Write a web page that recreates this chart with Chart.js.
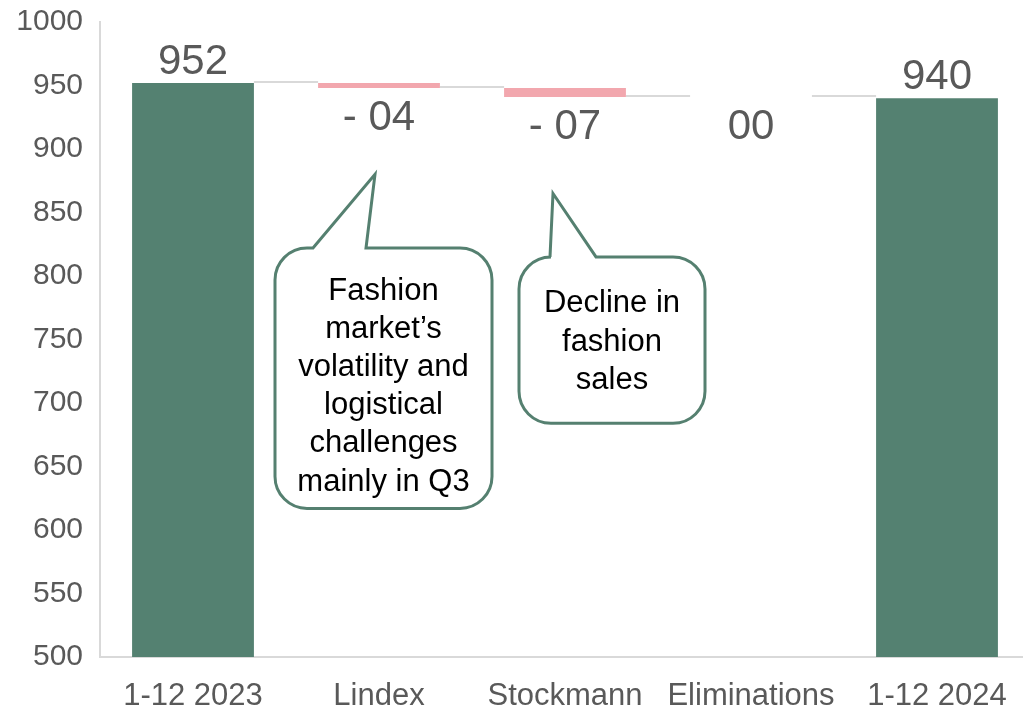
<!DOCTYPE html>
<html>
<head>
<meta charset="utf-8">
<script src="https://cdn.jsdelivr.net/npm/chart.js@4.4.1/dist/chart.umd.min.js"></script>
<style>
    html, body { margin: 0; padding: 0; background: #fff; overflow: hidden; }
    #wrap { position: relative; width: 1030px; height: 725px; margin-top: -13px; }
</style>
</head>
<body>
<div id="wrap"><canvas id="bridgeChart"></canvas></div>
<script>
// ---- data ----
var categories = ['1-12 2023', 'Lindex', 'Stockmann', 'Eliminations', '1-12 2024'];
var values = [952, -4, -7, 0, 940];
var isTotal = [true, false, false, false, true];
var yMin = 500, yMax = 1000, yStep = 50;

var GREEN = '#548171';
var PINK = '#F2A7AE';
var GREY_TEXT = '#595959';
var LINE = '#D9D9D9';
var FONT = '"Liberation Sans", Arial, sans-serif';

// build floating bars for the waterfall
var running = 0;
var barData = [];
var barColors = [];
for (var i = 0; i < values.length; i++) {
    if (isTotal[i]) {
        running = values[i];
        barData.push([0, running]);
        barColors.push(GREEN);
    } else {
        var next = running + values[i];
        barData.push([Math.min(running, next), Math.max(running, next)]);
        barColors.push(PINK);
        running = next;
    }
}

function valueLabel(i) {
    var v = values[i];
    if (isTotal[i]) return String(v);
    return v < 0 ? '- 0' + Math.abs(v) : '0' + v;
}

// callouts anchored on a category and on y values
var callouts = [
    { cat: 1, left: -104, right: 113, top: 822, bottom: 617,
      tipDx: -4, tipY: 880, baseL: -66, baseR: -13, firstLine: 43,
      lines: ['Fashion', 'market\u2019s', 'volatility and', 'logistical', 'challenges', 'mainly in Q3'] },
    { cat: 2, left: -46, right: 140, top: 815, bottom: 684,
      tipDx: -12, tipY: 865, baseL: -15, baseR: 31, firstLine: 47,
      lines: ['Decline in', 'fashion', 'sales'] }
];

var waterfallPlugin = {
    id: 'waterfall',
    beforeDatasetsDraw: function (chart) {
        // connector lines between bars
        var ctx = chart.ctx;
        var meta = chart.getDatasetMeta(0);
        var y = chart.scales.y;
        ctx.save();
        ctx.strokeStyle = LINE;
        ctx.lineWidth = 2;
        var level = 0;
        for (var i = 0; i < meta.data.length - 1; i++) {
            level = isTotal[i] ? values[i] : level + values[i];
            var a = meta.data[i], b = meta.data[i + 1];
            var py = Math.round(y.getPixelForValue(level)) - 1;
            ctx.beginPath();
            ctx.moveTo(a.x + a.width / 2, py);
            ctx.lineTo(b.x - b.width / 2, py);
            ctx.stroke();
        }
        ctx.restore();
    },
    afterDatasetsDraw: function (chart) {
        var ctx = chart.ctx;
        var meta = chart.getDatasetMeta(0);
        var x = chart.scales.x, y = chart.scales.y;

        // value labels
        ctx.save();
        ctx.font = '42px ' + FONT;
        ctx.fillStyle = GREY_TEXT;
        ctx.textAlign = 'center';
        ctx.textBaseline = 'alphabetic';
        for (var i = 0; i < meta.data.length; i++) {
            var bar = meta.data[i];
            var top = Math.min(bar.y, bar.base);
            var bottom = Math.max(bar.y, bar.base);
            var ly = isTotal[i] ? top - 9 : bottom + 42;
            ctx.fillText(valueLabel(i), bar.x, ly);
        }
        ctx.restore();

        // speech bubbles
        callouts.forEach(function (c) {
            var cx = x.getPixelForValue(c.cat);
            var L = cx + c.left, R = cx + c.right;
            var T = y.getPixelForValue(c.top), B = y.getPixelForValue(c.bottom);
            var r = 32;
            ctx.save();
            ctx.beginPath();
            ctx.moveTo(L + r, T);
            ctx.lineTo(cx + c.baseL, T);
            ctx.lineTo(cx + c.tipDx, y.getPixelForValue(c.tipY));
            ctx.lineTo(cx + c.baseR, T);
            ctx.lineTo(R - r, T);
            ctx.arcTo(R, T, R, T + r, r);
            ctx.lineTo(R, B - r);
            ctx.arcTo(R, B, R - r, B, r);
            ctx.lineTo(L + r, B);
            ctx.arcTo(L, B, L, B - r, r);
            ctx.lineTo(L, T + r);
            ctx.arcTo(L, T, L + r, T, r);
            ctx.closePath();
            ctx.fillStyle = '#fff';
            ctx.fill();
            ctx.strokeStyle = '#558070';
            ctx.lineWidth = 3;
            ctx.stroke();

            ctx.font = '31px ' + FONT;
            ctx.fillStyle = '#000';
            ctx.textAlign = 'center';
            ctx.textBaseline = 'middle';
            var mid = (L + R) / 2;
            c.lines.forEach(function (line, k) {
                ctx.fillText(line, mid, T + c.firstLine + k * 38.2);
            });
            ctx.restore();
        });
    }
};

var ctx = document.getElementById('bridgeChart').getContext('2d');
new Chart(ctx, {
    type: 'bar',
    data: {
        labels: categories,
        datasets: [{
            data: barData,
            backgroundColor: barColors,
            borderWidth: 0,
            categoryPercentage: 1,
            barPercentage: 0.655
        }]
    },
    options: {
        responsive: true,
        maintainAspectRatio: false,
        animation: false,
        layout: { padding: { top: 7, left: 0, right: 0, bottom: 0 } },
        plugins: {
            legend: { display: false },
            tooltip: { enabled: false }
        },
        scales: {
            x: {
                grid: { display: false, drawTicks: false },
                border: { color: LINE, width: 2 },
                ticks: { color: GREY_TEXT, font: { family: FONT, size: 31 }, padding: 21, maxRotation: 0, autoSkip: false },
                afterFit: function (scale) { scale.height = 55; }
            },
            y: {
                min: yMin,
                max: yMax,
                grid: { display: false, drawTicks: false },
                border: { color: LINE, width: 2 },
                ticks: {
                    stepSize: yStep, color: GREY_TEXT, font: { family: FONT, size: 30 }, padding: 17,
                    callback: function (v) { return String(v); }
                },
                afterFit: function (scale) { scale.width = 100; }
            }
        }
    },
    plugins: [waterfallPlugin]
});
</script>
</body>
</html>
